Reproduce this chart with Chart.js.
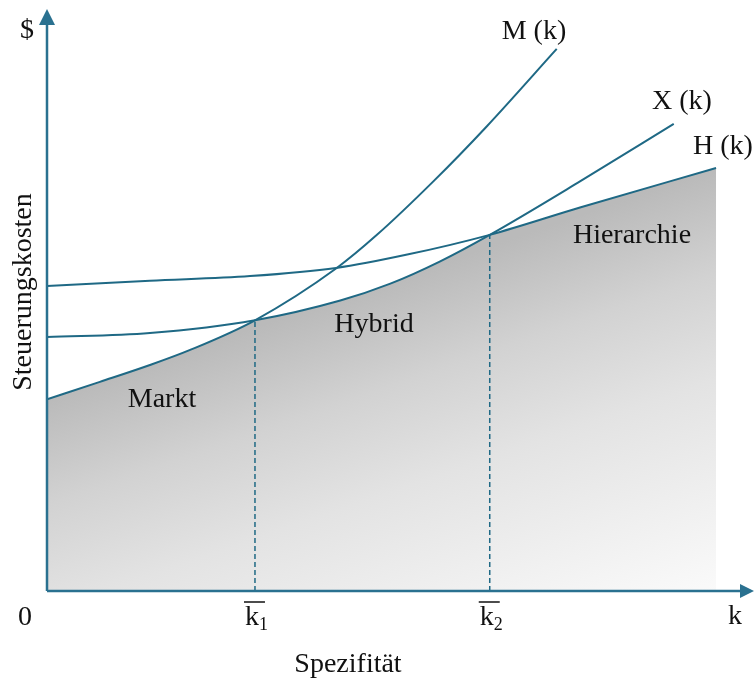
<!DOCTYPE html>
<html lang="de">
<head>
<meta charset="utf-8">
<title>Steuerungskosten</title>
<script src="https://cdn.jsdelivr.net/npm/chart.js@4"></script>
<style>
    html, body { margin: 0; padding: 0; background: #fff; }
    #wrap { position: relative; width: 755px; height: 684px; }
</style>
</head>
<body>
<div id="wrap"><canvas id="costChart"></canvas></div>
<script>
// ============== DATA ==============
// Spezifität k (0..100) and Steuerungskosten (0..100)

// M (k) - Markt
const marketK    = [0, 7.5, 14.6, 20.3, 29.5, 41.1, 46.8, 54.8, 62.4, 72.3];
const marketCost = [33.0, 36.0, 38.9, 41.5, 46.6, 55.6, 61.3, 70.5, 80.0, 93.3];

// X (k) - Hybrid
const hybridK    = [0, 14.6, 29.5, 41.6, 48.7, 55.7, 62.8, 75.6, 88.9];
const hybridCost = [43.7, 44.4, 46.6, 50.0, 52.9, 56.7, 61.3, 70.5, 80.4];

// H (k) - Hierarchie
const hierK      = [0, 14.6, 28.8, 41.0, 51.1, 62.8, 75.6, 94.9];
const hierCost   = [52.5, 53.4, 54.2, 55.6, 57.9, 61.3, 66.0, 72.8];

// critical specificities k1, k2 and their cost level
const kBar     = [29.5, 62.8];
const kBarCost = [46.6, 61.3];

const curveNames = ['M (k)', 'X (k)', 'H (k)'];

const LINE_COLOR = '#1f6985';
const AXIS_COLOR = '#2a7190';
const FONT = '"Liberation Serif", "Times New Roman", serif';

function toPoints(xs, ys) {
    return xs.map((x, i) => ({ x: x, y: ys[i] }));
}

// Gray gradient, dark along the top edge of the shaded area, light to the lower right
function shadeGradient(chart) {
    const { ctx, scales: { x, y } } = chart;
    const x0 = x.getPixelForValue(marketK[0]);
    const y0 = y.getPixelForValue(marketCost[0]);
    const xe = x.getPixelForValue(hierK[hierK.length - 1]);
    const ye = y.getPixelForValue(hierCost[hierCost.length - 1]);
    let nx = -(ye - y0), ny = xe - x0;
    const len = Math.hypot(nx, ny);
    nx = nx / len * 400;
    ny = ny / len * 400;
    const g = ctx.createLinearGradient(x0, y0, x0 + nx, y0 + ny);
    g.addColorStop(0, '#bababa');
    g.addColorStop(0.25, '#d2d2d2');
    g.addColorStop(0.5, '#e3e3e3');
    g.addColorStop(1, '#fafafa');
    return g;
}

// Fill under the lowest curve: M up to k1, X between k1 and k2, H after k2
const envelopeFill = {
    id: 'envelopeFill',
    beforeDatasetsDraw(chart) {
        const { ctx, chartArea, scales: { x, y } } = chart;
        const base = y.getPixelForValue(0);
        const cuts = [0, kBar[0], kBar[1], hierK[hierK.length - 1]];
        ctx.save();
        ctx.fillStyle = shadeGradient(chart);
        [0, 1, 2].forEach(i => {
            const line = chart.getDatasetMeta(i).dataset;
            line.updateControlPoints(chartArea, 'x');
            const left = x.getPixelForValue(cuts[i]);
            const right = x.getPixelForValue(cuts[i + 1]);
            ctx.save();
            ctx.beginPath();
            ctx.rect(left - 0.5, chartArea.top, right - left + 1, base - chartArea.top);
            ctx.clip();
            ctx.beginPath();
            line.path(ctx);
            const pts = line.points;
            ctx.lineTo(pts[pts.length - 1].x, base);
            ctx.lineTo(pts[0].x, base);
            ctx.closePath();
            ctx.fill();
            ctx.restore();
        });
        ctx.restore();
    }
};

// Axes with arrow heads
const arrowAxes = {
    id: 'arrowAxes',
    afterDatasetsDraw(chart) {
        const { ctx, chartArea: a } = chart;
        const ox = a.left, oy = a.bottom;
        ctx.save();
        ctx.strokeStyle = AXIS_COLOR;
        ctx.fillStyle = AXIS_COLOR;
        ctx.lineWidth = 2.5;
        ctx.beginPath();
        ctx.moveTo(ox, oy);
        ctx.lineTo(ox, a.top + 12);
        ctx.moveTo(ox, oy);
        ctx.lineTo(a.right - 10, oy);
        ctx.stroke();

        ctx.beginPath();
        ctx.moveTo(ox, a.top - 1);
        ctx.lineTo(ox - 8, a.top + 15);
        ctx.lineTo(ox + 8, a.top + 15);
        ctx.closePath();
        ctx.fill();

        ctx.beginPath();
        ctx.moveTo(a.right + 2, oy);
        ctx.lineTo(a.right - 12, oy - 7);
        ctx.lineTo(a.right - 12, oy + 7);
        ctx.closePath();
        ctx.fill();
        ctx.restore();
    }
};

// All the text of the figure
const figureText = {
    id: 'figureText',
    afterDraw(chart) {
        const { ctx, scales: { x } } = chart;
        ctx.save();
        ctx.fillStyle = '#111';
        ctx.textBaseline = 'alphabetic';
        ctx.font = '28px ' + FONT;
        ctx.textAlign = 'center';

        ctx.fillText('$', 27, 38);
        ctx.fillText('0', 25, 625);
        ctx.fillText('k', 735, 624);
        ctx.fillText('Spezifität', 348, 672);

        ctx.fillText(curveNames[0], 534, 39);
        ctx.fillText(curveNames[1], 682, 109);
        ctx.fillText(curveNames[2], 723, 154);

        ctx.fillText('Markt', 162, 407);
        ctx.fillText('Hybrid', 374, 332);
        ctx.fillText('Hierarchie', 632, 243);

        // k-bar labels with subscripts
        kBar.forEach((k, i) => {
            const px = x.getPixelForValue(k);
            ctx.font = '28px ' + FONT;
            ctx.textAlign = 'center';
            ctx.fillText('k', px - 3, 625);
            ctx.font = '18px ' + FONT;
            ctx.textAlign = 'left';
            ctx.fillText(String(i + 1), px + 4, 630);
            ctx.strokeStyle = '#111';
            ctx.lineWidth = 1.5;
            ctx.beginPath();
            ctx.moveTo(px - 11, 602);
            ctx.lineTo(px + 10, 602);
            ctx.stroke();
        });

        // rotated y axis title
        ctx.font = '28px ' + FONT;
        ctx.textAlign = 'center';
        ctx.translate(31, 292);
        ctx.rotate(-Math.PI / 2);
        ctx.fillText('Steuerungskosten', 0, 0);
        ctx.restore();
    }
};

function curveDataset(xs, ys) {
    return {
        data: toPoints(xs, ys),
        borderColor: LINE_COLOR,
        borderWidth: 2,
        pointRadius: 0,
        fill: false,
        cubicInterpolationMode: 'monotone'
    };
}

function dashDataset(i) {
    return {
        data: [{ x: kBar[i], y: 0 }, { x: kBar[i], y: kBarCost[i] }],
        borderColor: LINE_COLOR,
        borderWidth: 1.5,
        borderDash: [5, 3],
        pointRadius: 0,
        fill: false,
        tension: 0
    };
}

document.addEventListener('DOMContentLoaded', () => {
    const ctx = document.getElementById('costChart').getContext('2d');
    new Chart(ctx, {
        type: 'line',
        data: {
            datasets: [
                curveDataset(marketK, marketCost),
                curveDataset(hybridK, hybridCost),
                curveDataset(hierK, hierCost),
                dashDataset(0),
                dashDataset(1)
            ]
        },
        options: {
            responsive: true,
            maintainAspectRatio: false,
            animation: false,
            layout: { padding: { left: 47, right: 3, top: 10, bottom: 93 } },
            plugins: {
                legend: { display: false },
                tooltip: { enabled: false }
            },
            scales: {
                x: { type: 'linear', min: 0, max: 100, display: false },
                y: { type: 'linear', min: 0, max: 100, display: false }
            }
        },
        plugins: [envelopeFill, arrowAxes, figureText]
    });
});
</script>
</body>
</html>
